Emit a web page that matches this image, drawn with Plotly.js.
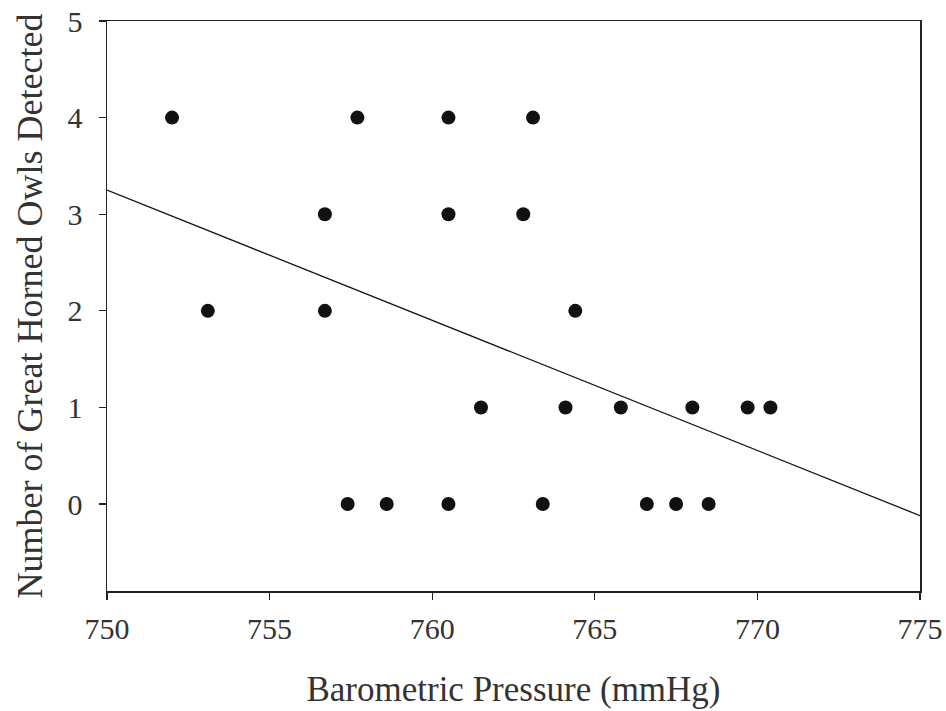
<!DOCTYPE html>
<html>
<head>
<meta charset="utf-8">
<script src="https://cdn.plot.ly/plotly-3.0.1.min.js"></script>
<style>html,body{margin:0;padding:0;background:#fff;}#chart{width:946px;height:711px;}</style>
</head>
<body>
<div id="chart"></div>
<script>
var pressure = [752.0, 753.1, 756.7, 756.7, 757.7, 757.4, 758.6, 760.5, 760.5, 760.5, 761.5, 763.1, 762.8, 763.4, 764.1, 764.4, 765.8, 766.6, 767.5, 768.0, 768.5, 769.7, 770.4];
var owls     = [4, 2, 3, 2, 4, 0, 0, 4, 3, 0, 1, 4, 3, 0, 1, 2, 1, 0, 0, 1, 0, 1, 1];
var fitX = [750, 775];
var fitY = [3.25, -0.12];
var xTicks = [750, 755, 760, 765, 770, 775];
var yTicks = [0, 1, 2, 3, 4, 5];

var data = [
  {x: fitX, y: fitY, type: 'scatter', mode: 'lines', line: {color: '#111', width: 1.3}, hoverinfo: 'skip'},
  {x: pressure, y: owls, type: 'scatter', mode: 'markers', marker: {color: '#111', size: 14}}
];
var fam = '"Liberation Serif", "Times New Roman", serif';
var txt = '#333';
var layout = {
  width: 946, height: 711,
  margin: {l: 107, r: 26, t: 21, b: 120},
  paper_bgcolor: '#fff', plot_bgcolor: '#fff',
  showlegend: false,
  font: {family: fam, color: txt},
  xaxis: {
    range: [750, 775], tickvals: xTicks, ticktext: xTicks.map(String),
    ticks: 'outside', ticklen: 7, tickwidth: 1.2, tickcolor: '#222',
    showline: true, linecolor: '#222', linewidth: 1.5, mirror: true,
    showgrid: false, zeroline: false, ticklabelstandoff: 3,
    tickfont: {family: fam, size: 30, color: txt},
    title: {text: 'Barometric Pressure (mmHg)', font: {family: fam, size: 35, color: txt}, standoff: 33}
  },
  yaxis: {
    range: [-0.9, 5], tickvals: yTicks, ticktext: yTicks.map(String),
    ticks: 'outside', ticklen: 7, tickwidth: 1.2, tickcolor: '#222',
    showline: true, linecolor: '#222', linewidth: 1.5, mirror: true,
    showgrid: false, zeroline: false, ticklabelstandoff: 10,
    tickfont: {family: fam, size: 30, color: txt},
    title: {text: 'Number of Great Horned Owls Detected', font: {family: fam, size: 36, color: txt}, standoff: 14}
  }
};
Plotly.newPlot('chart', data, layout, {displayModeBar: false, staticPlot: true});
</script>
</body>
</html>
